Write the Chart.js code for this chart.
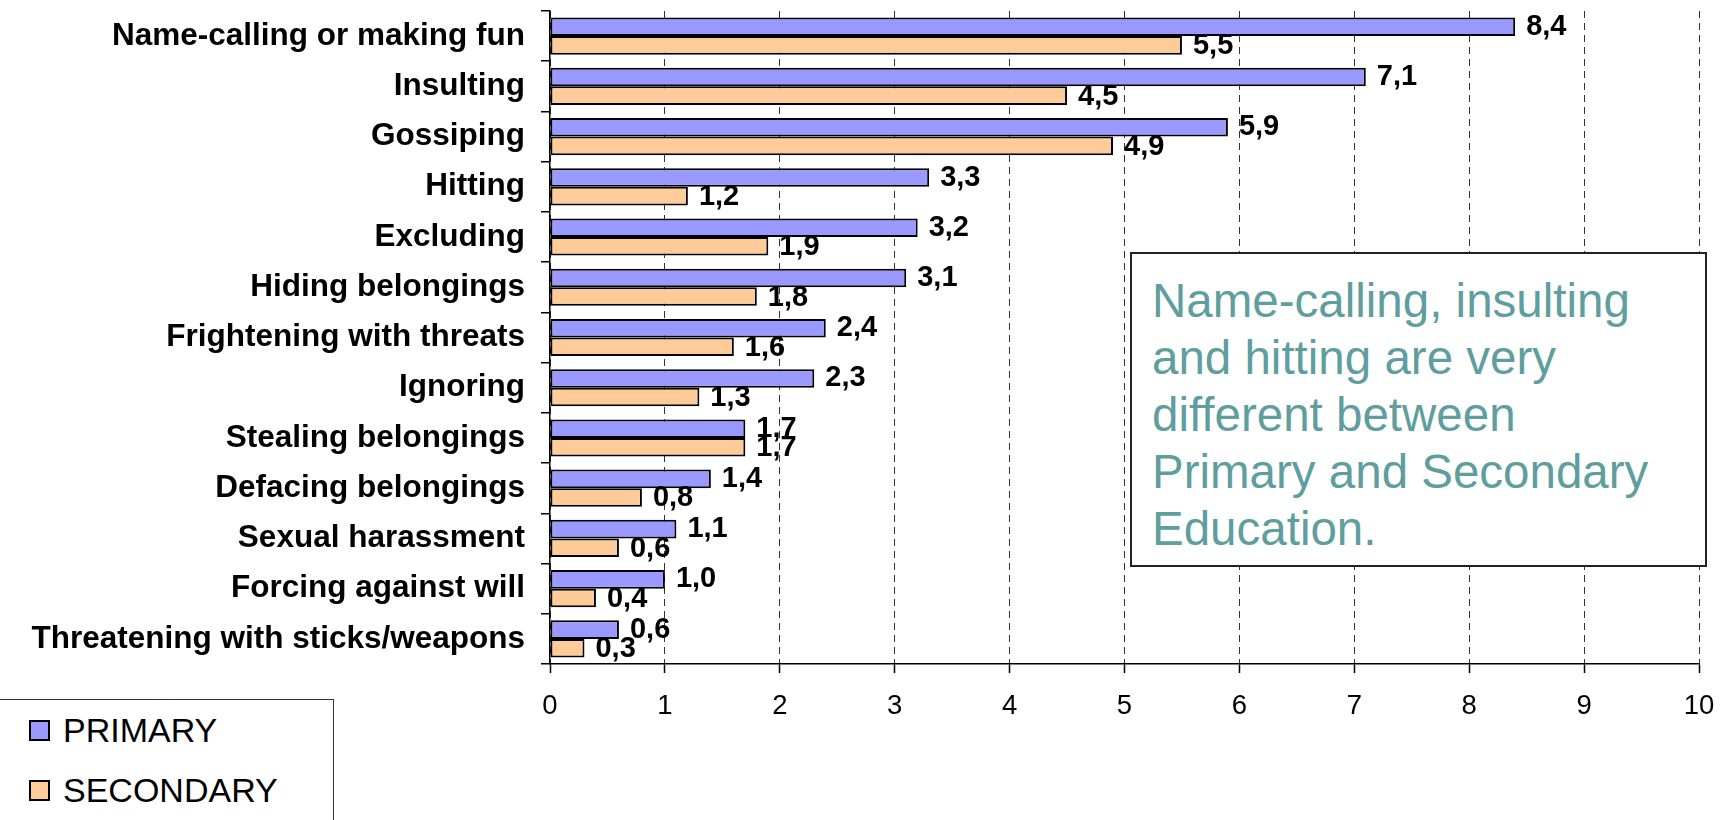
<!DOCTYPE html>
<html>
<head>
<meta charset="utf-8">
<script src="https://cdn.jsdelivr.net/npm/chart.js@4.4.1/dist/chart.umd.min.js"></script>
<style>
  html, body { margin: 0; padding: 0; background: #ffffff; overflow: hidden; }
  #wrap { position: relative; width: 1729px; height: 820px; }
  #chart { position: absolute; left: 0; top: 0; }
  #note {
    position: absolute; left: 1130px; top: 252px; width: 573px; height: 311px;
    border: 2px solid #222; background: #fff; box-sizing: content-box;
    font-family: "Liberation Sans", Arial, sans-serif; font-size: 47.5px; line-height: 57px;
    color: #5F9E9E; padding: 0;
  }
  #note div { position: absolute; left: 20px; top: 18px; white-space: nowrap; }
  #legend {
    position: absolute; left: -1px; top: 699px; width: 333px; height: 140px;
    border: 1px solid #333; background: #fff;
    font-family: "Liberation Sans", Arial, sans-serif; font-size: 34px; color: #000;
  }
  .li { position: absolute; left: 29px; height: 40px; display: flex; align-items: center; white-space: nowrap; }
  .sw { width: 17px; height: 17px; border: 2px solid #000; margin-right: 13px; box-sizing: content-box; }
</style>
</head>
<body>
<div id="wrap">
  <canvas id="chart" width="1729" height="820"></canvas>
  <div id="note"><div>Name-calling, insulting<br>and hitting are very<br>different between<br>Primary and Secondary<br>Education.</div></div>
  <div id="legend"></div>
</div>
<script>
const categories = [
  'Name-calling or making fun',
  'Insulting',
  'Gossiping',
  'Hitting',
  'Excluding',
  'Hiding belongings',
  'Frightening with threats',
  'Ignoring',
  'Stealing belongings',
  'Defacing belongings',
  'Sexual harassment',
  'Forcing against will',
  'Threatening with sticks/weapons'
];
const primary   = [8.4, 7.1, 5.9, 3.3, 3.2, 3.1, 2.4, 2.3, 1.7, 1.4, 1.1, 1.0, 0.6];
const secondary = [5.5, 4.5, 4.9, 1.2, 1.9, 1.8, 1.6, 1.3, 1.7, 0.8, 0.6, 0.4, 0.3];
const seriesNames = ['PRIMARY', 'SECONDARY'];
const seriesColors = ['#9999FF', '#FFCC99'];
const xMin = 0, xMax = 10, xStep = 1;

const FONT = '"Liberation Sans", Arial, sans-serif';

const labelPlugin = {
  id: 'valueLabels',
  afterDatasetsDraw(chart) {
    const ctx = chart.ctx;
    ctx.save();
    ctx.font = 'bold 29px ' + FONT;
    ctx.fillStyle = '#000';
    ctx.textAlign = 'left';
    ctx.textBaseline = 'middle';
    chart.data.datasets.forEach((ds, di) => {
      const meta = chart.getDatasetMeta(di);
      meta.data.forEach((bar, i) => {
        const txt = ds.data[i].toFixed(1).replace('.', ',');
        ctx.fillText(txt, bar.x + 11, bar.y + (di === 0 ? 0 : 1));
      });
    });
    ctx.restore();
  }
};

const chart = new Chart(document.getElementById('chart'), {
  type: 'bar',
  data: {
    labels: categories,
    datasets: [
      { label: seriesNames[0], data: primary, backgroundColor: seriesColors[0], borderColor: '#000', borderWidth: 2, borderSkipped: false },
      { label: seriesNames[1], data: secondary, backgroundColor: seriesColors[1], borderColor: '#000', borderWidth: 2, borderSkipped: false }
    ]
  },
  options: {
    indexAxis: 'y',
    responsive: false,
    animation: false,
    devicePixelRatio: 1,
    datasets: { bar: { categoryPercentage: 0.74, barPercentage: 1.0 } },
    layout: { padding: { top: 11, right: 30, left: 0, bottom: 0 } },
    plugins: { legend: { display: false }, tooltip: { enabled: false } },
    scales: {
      x: {
        type: 'linear', min: xMin, max: xMax,
        ticks: { stepSize: xStep, color: '#000', font: { family: FONT, size: 27.5 }, padding: 17, maxRotation: 0 },
        grid: { color: '#333', lineWidth: 1, drawTicks: true, tickLength: 9, tickColor: '#000', tickWidth: 1.5 },
        border: { display: true, color: '#000', width: 1.5, dash: [7, 5] },
        afterFit(scale) { scale.height = 156; scale.paddingLeft = 0; scale.paddingRight = 0; }
      },
      y: {
        type: 'category',
        ticks: { color: '#000', font: { family: FONT, size: 31.5, weight: 'bold' }, padding: 16, autoSkip: false },
        grid: { display: true, drawOnChartArea: false, drawTicks: true, tickLength: 9, color: '#000', lineWidth: 1.5 },
        border: { display: true, color: '#000', width: 1.5 },
        afterFit(scale) { scale.width = 550; scale.paddingTop = 0; scale.paddingBottom = 0; }
      }
    }
  },
  plugins: [labelPlugin]
});

// legend built from the series arrays
const legend = document.getElementById('legend');
const tops = [10, 70];
seriesNames.forEach((name, i) => {
  const item = document.createElement('div');
  item.className = 'li';
  item.style.top = tops[i] + 'px';
  const sw = document.createElement('span');
  sw.className = 'sw';
  sw.style.background = seriesColors[i];
  const t = document.createElement('span');
  t.textContent = name;
  item.appendChild(sw);
  item.appendChild(t);
  legend.appendChild(item);
});
</script>
</body>
</html>
